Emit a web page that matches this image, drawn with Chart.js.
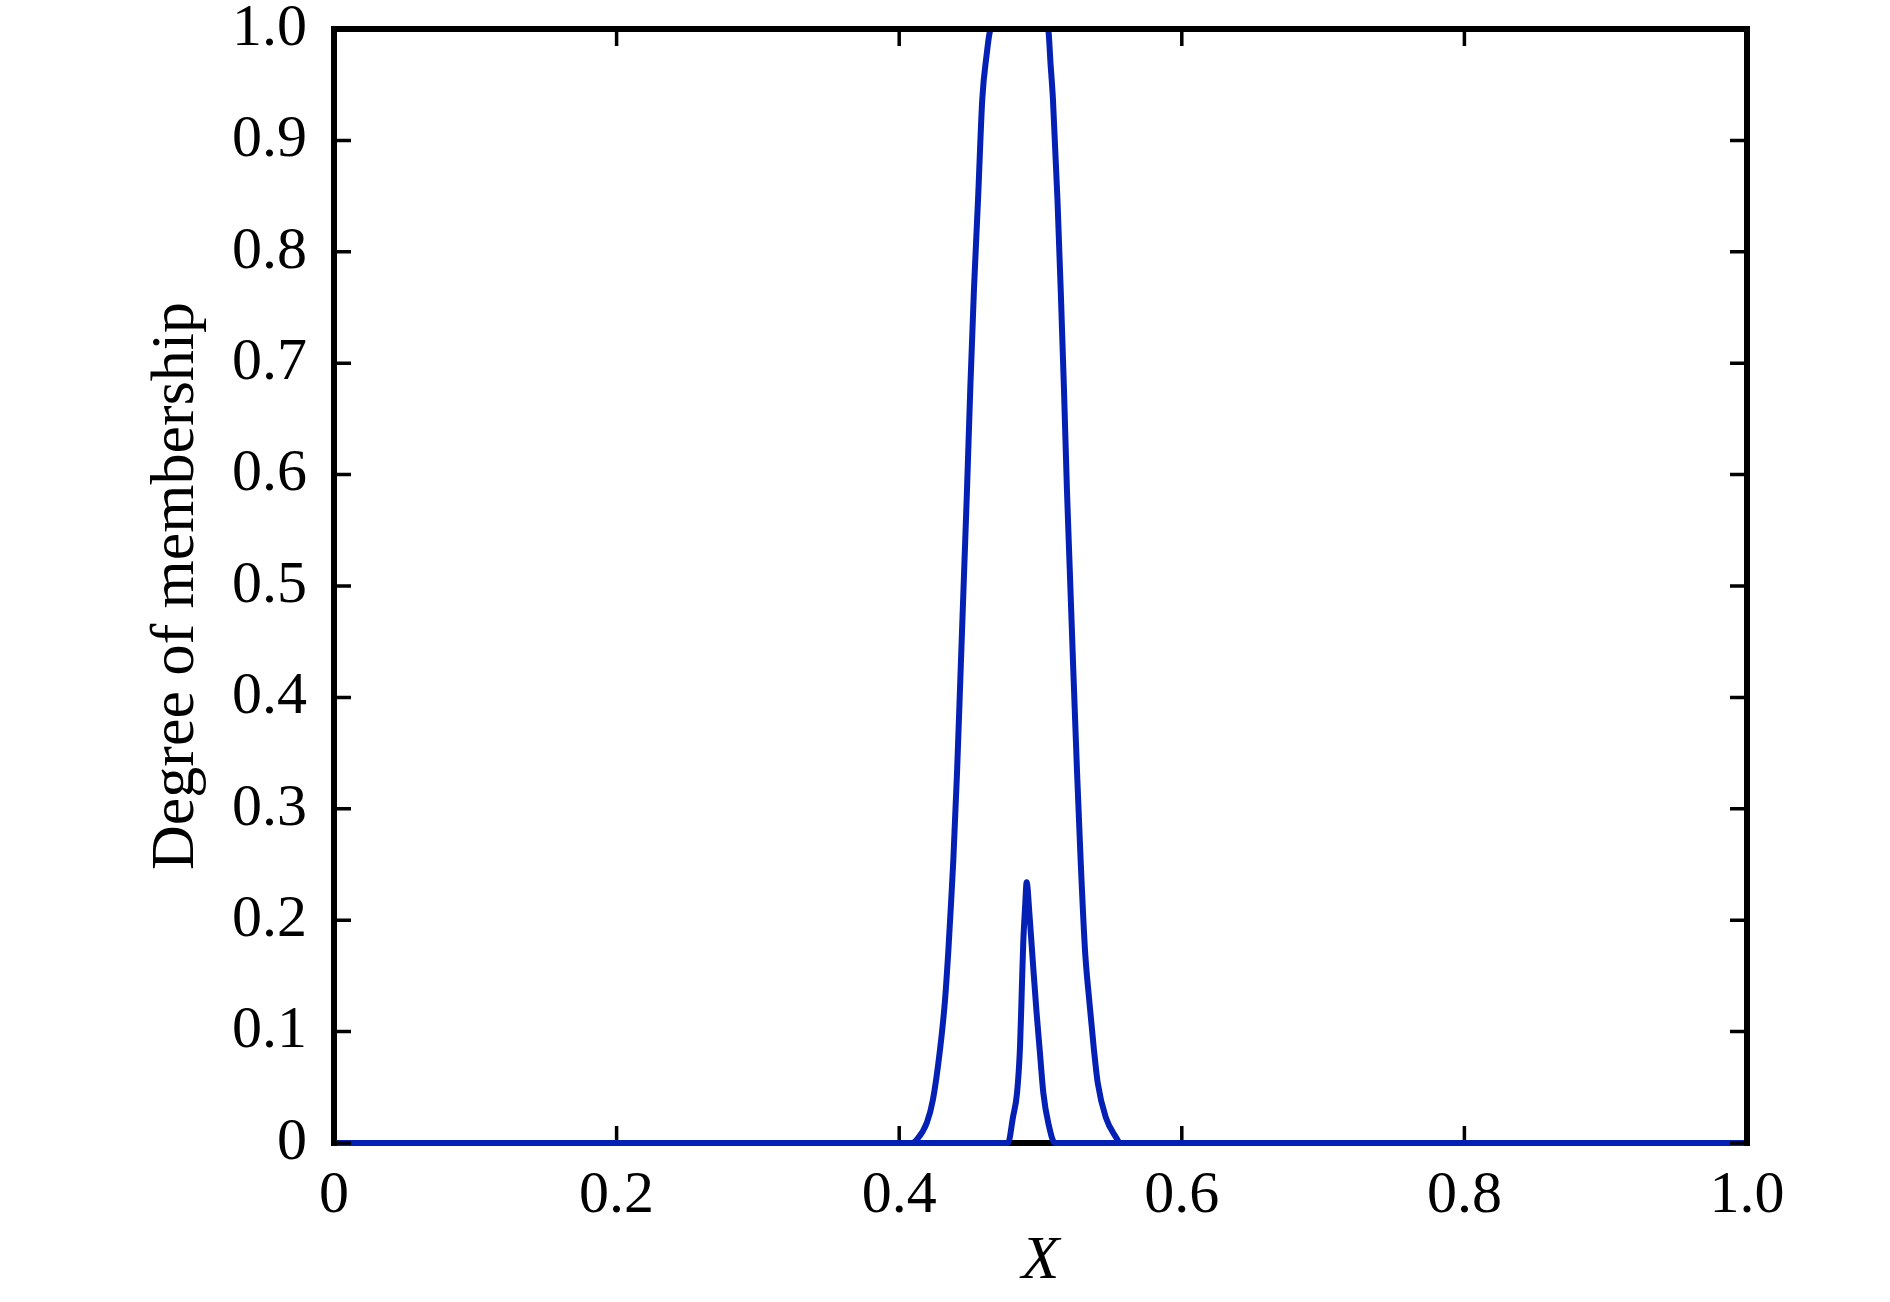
<!DOCTYPE html>
<html>
<head>
<meta charset="utf-8">
<script src="https://cdn.jsdelivr.net/npm/chart.js@4/dist/chart.umd.min.js"></script>
<style>
  html, body { margin: 0; padding: 0; background: #fff; font-family: "Liberation Serif"; }
  #wrap { width: 1890px; height: 1302px; }
</style>
</head>
<body>
<div id="wrap"><canvas id="c" width="1890" height="1302"></canvas></div>
<script>
// wide membership curve (flat at 1.0 on top)
var bigX = [0, 0.409, 0.4124, 0.4195, 0.4239, 0.4289, 0.4324, 0.4348, 0.4368, 0.4383, 0.4410, 0.4435, 0.4460, 0.4480, 0.4503, 0.4529, 0.4558, 0.4588, 0.4617, 0.465,
            0.5053, 0.5072, 0.5088, 0.5120, 0.5143, 0.5166, 0.5187, 0.5207, 0.5232, 0.5258, 0.5284, 0.5315, 0.5345, 0.5378, 0.5405, 0.5462, 0.5535, 0.5563, 1];
var bigY = [0, 0, 0.003, 0.018, 0.039, 0.084, 0.128, 0.173, 0.218, 0.254, 0.335, 0.425, 0.515, 0.587, 0.677, 0.766, 0.847, 0.937, 0.975, 1.0,
            1.0, 0.967, 0.937, 0.847, 0.766, 0.677, 0.587, 0.515, 0.425, 0.335, 0.254, 0.173, 0.128, 0.084, 0.054, 0.023, 0.005, 0, 0];
// narrow peak
var smallX = [0, 0.477, 0.4805, 0.4834, 0.4855, 0.4867, 0.4878, 0.4891, 0.4902, 0.4922, 0.4945, 0.4971, 0.4996, 0.502, 0.5055, 0.5103, 1];
var smallY = [0, 0, 0.023, 0.045, 0.086, 0.135, 0.180, 0.212, 0.234, 0.205, 0.164, 0.119, 0.081, 0.045, 0.018, 0, 0];

var xLabel = 'X';
var yLabel = 'Degree of membership';

var toPoints = function(xs, ys){
  var pts = [];
  for(var i = 0; i < xs.length; i++){
    pts.push({x: xs[i], y: ys[i]});
  }
  return pts;
};

var fmt = function(v){
  return v == 0 ? '0' : v.toFixed(1);
};

var blue = '#0520b5';
var serif = '"Liberation Serif", "Times New Roman", Tinos, serif';
var TICK = 17;

var drawTicks = function(ctx, chart, sides){
  var a = chart.chartArea;
  var xs = chart.scales.x, ys = chart.scales.y;
  ctx.save();
  ctx.strokeStyle = '#000';
  ctx.lineWidth = 3.5;
  ctx.beginPath();
  xs.ticks.forEach(function(t){
    var px = xs.getPixelForValue(t.value);
    if(sides.indexOf('bottom') >= 0){ ctx.moveTo(px, a.bottom); ctx.lineTo(px, a.bottom - TICK); }
    if(sides.indexOf('top') >= 0){ ctx.moveTo(px, a.top); ctx.lineTo(px, a.top + TICK); }
  });
  ys.ticks.forEach(function(t){
    var py = ys.getPixelForValue(t.value);
    if(sides.indexOf('left') >= 0){ ctx.moveTo(a.left, py); ctx.lineTo(a.left + TICK, py); }
    if(sides.indexOf('right') >= 0){ ctx.moveTo(a.right, py); ctx.lineTo(a.right - TICK, py); }
  });
  ctx.stroke();
  ctx.lineWidth = 6;
  ctx.lineCap = 'square';
  ctx.beginPath();
  if(sides.indexOf('bottom') >= 0){ ctx.moveTo(a.left, a.bottom); ctx.lineTo(a.right, a.bottom); }
  if(sides.indexOf('top') >= 0){ ctx.moveTo(a.left, a.top); ctx.lineTo(a.right, a.top); }
  if(sides.indexOf('left') >= 0){ ctx.moveTo(a.left, a.top); ctx.lineTo(a.left, a.bottom); }
  if(sides.indexOf('right') >= 0){ ctx.moveTo(a.right, a.top); ctx.lineTo(a.right, a.bottom); }
  ctx.stroke();
  ctx.restore();
};

var frame = {
  id: 'frame',
  beforeDatasetsDraw: function(chart){
    drawTicks(chart.ctx, chart, ['bottom']);
  },
  afterDatasetsDraw: function(chart){
    drawTicks(chart.ctx, chart, ['top', 'left', 'right']);
  }
};

var draw = function(){
  new Chart(document.getElementById('c').getContext('2d'), {
    type: 'line',
    data: {
      datasets: [
        {
          data: toPoints(bigX, bigY),
          borderColor: blue,
          borderWidth: 6,
          pointRadius: 0,
          cubicInterpolationMode: 'monotone',
          clip: false
        },
        {
          data: toPoints(smallX, smallY),
          borderColor: blue,
          borderWidth: 6,
          pointRadius: 0,
          cubicInterpolationMode: 'monotone',
          clip: false
        }
      ]
    },
    options: {
      responsive: false,
      animation: false,
      events: [],
      layout: {padding: {top: 29, right: 143, left: 0, bottom: 0}},
      plugins: {legend: {display: false}, tooltip: {enabled: false}},
      scales: {
        x: {
          type: 'linear',
          min: 0,
          max: 1,
          afterFit: function(s){ s.height = 159; s.paddingLeft = 0; s.paddingRight = 0; },
          grid: {display: false, drawTicks: false},
          border: {display: false},
          ticks: {
            stepSize: 0.2,
            padding: 26,
            color: '#000',
            maxRotation: 0,
            font: {family: serif, size: 60, lineHeight: 0.9},
            callback: function(v){ return fmt(v); }
          },
          title: {
            display: true,
            text: xLabel,
            color: '#000',
            padding: {top: 0, bottom: 3},
            font: {family: serif, size: 62, style: 'italic'}
          }
        },
        y: {
          min: 0,
          max: 1,
          afterFit: function(s){ s.width = 334; s.paddingTop = 0; s.paddingBottom = 0; },
          grid: {display: false, drawTicks: false},
          border: {display: false},
          ticks: {
            stepSize: 0.1,
            padding: 27,
            color: '#000',
            font: {family: serif, size: 60, lineHeight: 0.9},
            callback: function(v){ return fmt(v); }
          },
          title: {
            display: true,
            text: yLabel,
            color: '#000',
            padding: {top: 140, bottom: 0},
            font: {family: serif, size: 62}
          }
        }
      }
    },
    plugins: [frame]
  });
};

if(document.fonts && document.fonts.load){
  Promise.all([
    document.fonts.load('60px "Liberation Serif"'),
    document.fonts.load('italic 62px "Liberation Serif"')
  ]).then(draw, draw);
}
else{
  draw();
}
</script>
</body>
</html>
